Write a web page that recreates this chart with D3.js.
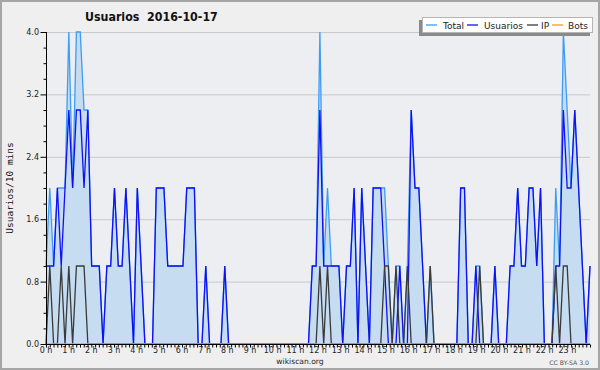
<!DOCTYPE html>
<html>
<head>
<meta charset="utf-8">
<script src="https://cdn.jsdelivr.net/npm/d3@7"></script>
<style>
  body { margin: 0; background: #efefef; }
  svg { display: block; }
  text { font-family: "DejaVu Sans", sans-serif; }
</style>
</head>
<body>
<div id="chart"><svg></svg></div>
<script>
// values every 10 minutes, 144 per day
const usuarios = [
  1,1,1,2,1,2,3,2,3,3, 2,3,1,1,1,0,1,1,2,1, 1,2,1,0,2,1,0,0,0,2,
  2,2,1,1,1,1,1,2,2,2, 0,0,1,0,0,0,0,1,0,0, 0,0,0,0,0,0,0,0,0,0,
  0,0,0,0,0,0,0,0,0,0, 1,1,3,1,1,1,1,1,0,1, 1,2,0,2,1,0,2,2,2,1,
  0,0,0,1,0,0,3,2,2,1, 0,0,0,0,0,0,0,0,0,2, 2,0,0,1,0,0,0,0,1,0,
  0,0,1,1,2,1,1,2,2,1, 2,0,0,0,1,1,3,2,2,3, 2,1,0,1
]
const ip = [
  0,1,0,0,1,0,1,0,1,1, 1,0,0,0,0,0,0,0,0,0, 0,0,0,0,0,0,0,0,0,0,
  0,0,0,0,0,0,0,0,0,0, 0,0,0,0,0,0,0,0,0,0, 0,0,0,0,0,0,0,0,0,0,
  0,0,0,0,0,0,0,0,0,0, 0,0,1,0,1,0,0,0,0,0, 0,0,0,0,0,0,0,0,0,1,
  1,0,1,0,0,1,0,0,0,0, 0,1,0,0,0,0,0,0,0,0, 0,0,0,0,1,0,0,0,0,0,
  0,0,0,0,0,0,0,0,0,0, 0,0,0,0,1,0,1,1,0,0, 0,0,0,0
]
const total = [
  1,2,1,2,2,2,4,2,4,4, 3,3,1,1,1,0,1,1,2,1, 1,2,1,0,2,1,0,0,0,2,
  2,2,1,1,1,1,1,2,2,2, 0,0,1,0,0,0,0,1,0,0, 0,0,0,0,0,0,0,0,0,0,
  0,0,0,0,0,0,0,0,0,0, 1,1,4,1,2,1,1,1,0,1, 1,2,0,2,1,0,2,2,2,2,
  1,0,1,1,0,1,3,2,2,1, 0,1,0,0,0,0,0,0,0,2, 2,0,0,1,1,0,0,0,1,0,
  0,0,1,1,2,1,1,2,2,1, 2,0,0,0,2,1,4,3,2,3, 2,1,0,1
]
const bots = [
  0,0,0,0,0,0,0,0,0,0, 0,0,0,0,0,0,0,0,0,0, 0,0,0,0,0,0,0,0,0,0,
  0,0,0,0,0,0,0,0,0,0, 0,0,0,0,0,0,0,0,0,0, 0,0,0,0,0,0,0,0,0,0,
  0,0,0,0,0,0,0,0,0,0, 0,0,0,0,0,0,0,0,0,0, 0,0,0,0,0,0,0,0,0,0,
  0,0,0,0,0,0,0,0,0,0, 0,0,0,0,0,0,0,0,0,0, 0,0,0,0,0,0,0,0,0,0,
  0,0,0,0,0,0,0,0,0,0, 0,0,0,0,0,0,0,0,0,0, 0,0,0,0
]
const hourLabels = ["0 h","1 h","2 h","3 h","4 h","5 h","6 h","7 h","8 h","9 h","10 h","11 h",
  "12 h","13 h","14 h","15 h","16 h","17 h","18 h","19 h","20 h","21 h","22 h","23 h"]
const yLabels = [0, 0.8, 1.6, 2.4, 3.2, 4.0]

const legendItems = [
  { name: "Total", color: "#3d9cf5" },
  { name: "Usuarios", color: "#1010f5" },
  { name: "IP", color: "#3a3a3a" },
  { name: "Bots", color: "#ff9a1a" }
]

const width = 600, height = 370
const plot = { left: 46, right: 590, top: 32, bottom: 344 }

const svg = d3.select("#chart").select("svg")
  .attr("width", width)
  .attr("height", height)

// background and frame
svg.append("rect").attr("width", width).attr("height", height).attr("fill", "#efefef")
svg.append("rect").attr("x", 1).attr("y", 1).attr("width", width - 2).attr("height", height - 2)
  .attr("fill", "none").attr("stroke", "#a6a6a6").attr("stroke-width", 2)
svg.append("rect")
  .attr("x", plot.left).attr("y", plot.top)
  .attr("width", plot.right - plot.left).attr("height", plot.bottom - plot.top)
  .attr("fill", "#eceef1")

// scales
const x = d3.scaleLinear().domain([0, usuarios.length - 1]).range([plot.left, plot.right])
const xHour = d3.scaleLinear().domain([0, 24]).range([plot.left, plot.right])
const y = d3.scaleLinear().domain([0, 4]).range([plot.bottom, plot.top])

// grid
svg.append("g")
  .selectAll("line")
  .data(yLabels.filter(d => d > 0))
  .join("line")
  .attr("x1", plot.left).attr("x2", plot.right)
  .attr("y1", d => y(d) + 0.5).attr("y2", d => y(d) + 0.5)
  .attr("stroke", "#c9c9c9")

// area under total
svg.append("path")
  .datum(total)
  .attr("fill", "#c6ddf1")
  .attr("d", d3.area().x((d, i) => x(i)).y0(y(0)).y1(d => y(d)))

const line = d3.line().x((d, i) => x(i)).y(d => y(d))
const series = [total, usuarios, ip, bots]
series.forEach((s, k) => {
  svg.append("path")
    .datum(s)
    .attr("fill", "none")
    .attr("stroke", legendItems[k].color)
    .attr("stroke-width", 1.3)
    .attr("d", line)
})

// y axis
svg.append("g")
  .attr("transform", "translate(" + (plot.left + 0.5) + ",0)")
  .call(d3.axisLeft(y).tickValues(d3.range(0, 4.01, 0.2)).tickSize(3).tickFormat(""))
  .call(g => g.selectAll(".tick line")
    .attr("x2", d => Math.abs(d / 0.8 - Math.round(d / 0.8)) < 1e-6 ? -6 : -3))
  .call(g => g.select(".domain").attr("d", "M0," + plot.top + "V" + plot.bottom))

svg.append("g")
  .selectAll("text")
  .data(yLabels)
  .join("text")
  .attr("x", 39)
  .attr("y", d => y(d) + 3)
  .attr("text-anchor", "end")
  .attr("font-size", 8)
  .attr("fill", "#222")
  .text(d => d.toFixed(1))

// x axis
svg.append("g")
  .attr("transform", "translate(0," + (plot.bottom + 0.5) + ")")
  .call(d3.axisBottom(xHour).tickValues(d3.range(0, 24.01, 1 / 6)).tickSize(3).tickFormat(""))
  .call(g => g.select(".domain").attr("d", "M" + plot.left + ",0H" + plot.right))

svg.append("g")
  .selectAll("text")
  .data(hourLabels)
  .join("text")
  .attr("x", (d, i) => xHour(i))
  .attr("y", 353)
  .attr("text-anchor", "middle")
  .attr("font-size", 8)
  .attr("fill", "#222")
  .text(d => d)

// titles
svg.append("text")
  .attr("x", 85).attr("y", 21)
  .attr("font-size", 12.3)
  .attr("font-weight", "bold")
  .style("font-stretch", "condensed")
  .style("white-space", "pre")
  .attr("fill", "#111")
  .text("Usuarios  2016-10-17")

svg.append("text")
  .attr("transform", "translate(13," + ((plot.top + plot.bottom) / 2) + ") rotate(-90)")
  .attr("text-anchor", "middle")
  .style("font-family", "'DejaVu Sans Mono', monospace")
  .attr("font-size", 9.5)
  .attr("fill", "#111")
  .text("Usuarios/10 mins")

svg.append("text")
  .attr("x", 300).attr("y", 364)
  .attr("text-anchor", "middle")
  .attr("font-size", 7.6)
  .attr("fill", "#222")
  .text("wikiscan.org")

svg.append("text")
  .attr("x", 589).attr("y", 365)
  .attr("text-anchor", "end")
  .attr("font-size", 6.2)
  .attr("fill", "#555")
  .text("CC BY-SA 3.0")

// legend
const legend = svg.append("g")
legend.append("rect").attr("x", 419).attr("y", 20).attr("width", 171).attr("height", 16).attr("fill", "#8a8a8a")
legend.append("rect").attr("x", 422.5).attr("y", 17.5).attr("width", 170).attr("height", 15)
  .attr("fill", "#fff").attr("stroke", "#b5b5b5")

const legendLineX = [426, 467, 527, 552]
const legendTextX = [443, 484, 541, 568]
legendItems.forEach((item, k) => {
  legend.append("line")
    .attr("x1", legendLineX[k]).attr("x2", legendLineX[k] + 11)
    .attr("y1", 25).attr("y2", 25)
    .attr("stroke", item.color).attr("stroke-width", 1.3)
  legend.append("text")
    .attr("x", legendTextX[k]).attr("y", 28.5)
    .attr("font-size", 9)
    .attr("fill", "#222")
    .text(item.name)
})
</script>
</body>
</html>
